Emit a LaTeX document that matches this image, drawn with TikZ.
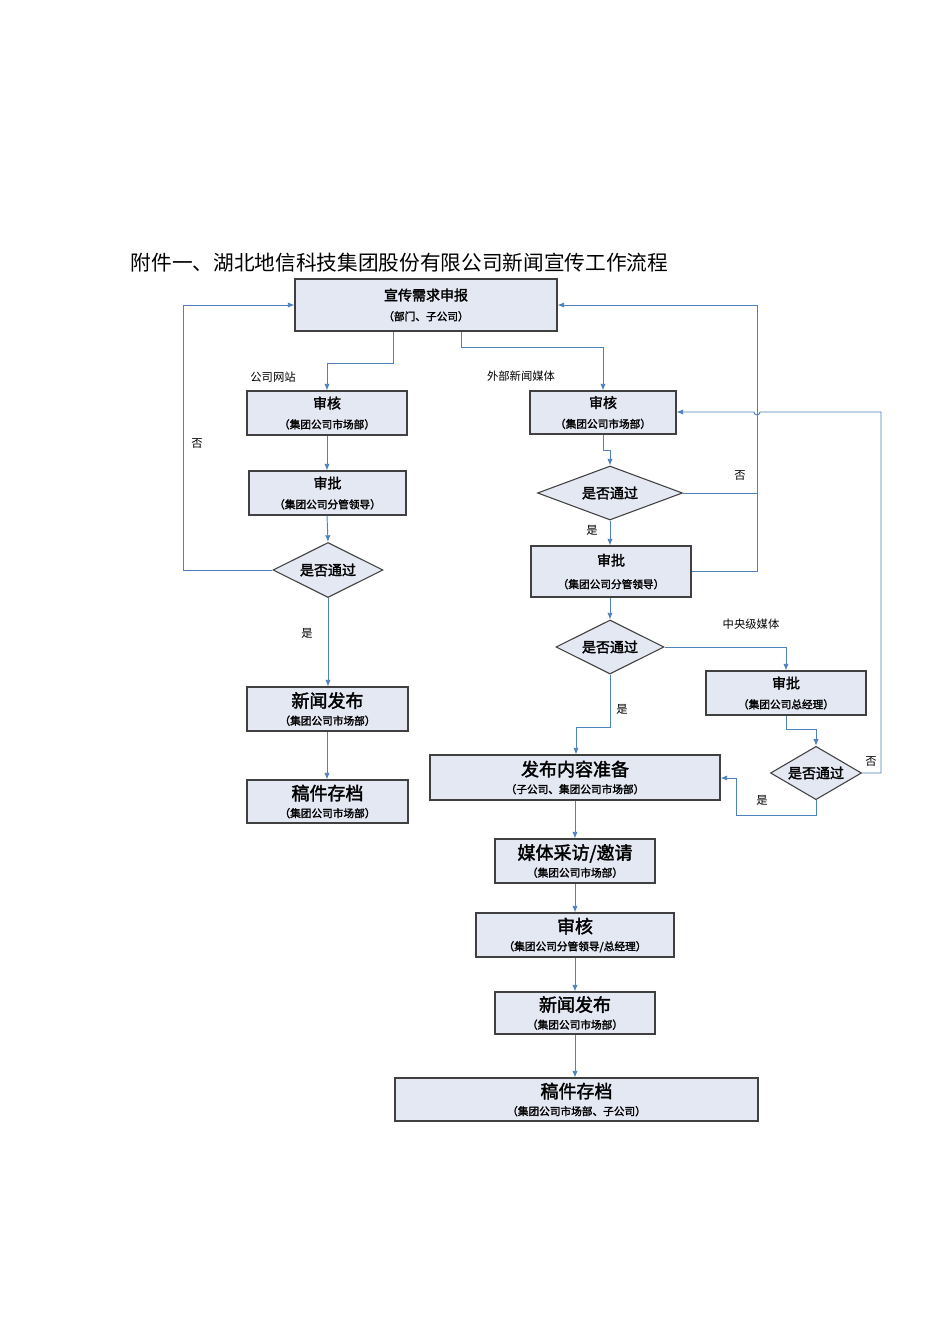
\documentclass[tikz,border=0pt]{standalone}
\usepackage{fontspec}
\setmainfont{Noto Sans CJK SC}
\newfontfamily\cjk{Noto Sans CJK SC}
\newfontfamily\cjkb{Noto Sans CJK SC}[FakeBold=2]
\usetikzlibrary{shapes.geometric,arrows.meta}
\definecolor{ln}{HTML}{4F81BD}
\definecolor{bx}{HTML}{E4E8F3}
\begin{document}
\begin{tikzpicture}[x=0.75pt,y=-0.75pt,
 box/.style={draw=black!75,fill=bx,line width=0.8pt,inner sep=0pt,align=center},
 dia/.style={draw=black!75,fill=bx,line width=0.8pt,diamond,inner sep=0pt,aspect=2},
 c/.style={draw=ln,line width=0.7pt},
 a/.style={c,-{Latex[length=5pt,width=4pt]}},
 lab/.style={font=\cjk\fontsize{8.5}{10}\selectfont},
 t/.style={font=\cjkb\fontsize{10.5}{12}\selectfont},
 s/.style={font=\cjkb\fontsize{8}{10}\selectfont},
 T/.style={font=\cjkb\fontsize{13.5}{15}\selectfont}]
\fill[white] (0,0) rectangle (950,1344);
\node[anchor=west,font=\cjk\fontsize{15.5}{18}\selectfont] (title) at (126,263) {附件一、湖北地信科技集团股份有限公司新闻宣传工作流程};
\newcommand{\bx}[6]{\node[box,minimum width={(#3-#2)*0.75pt},minimum height={(#5-#4)*0.75pt}] (#1) at ({(#2+#3)/2},{(#4+#5)/2}) {#6};}
\bx{top}{295}{557}{279}{331}{{\cjkb\fontsize{10.5}{12}\selectfont 宣传需求申报}\\[3pt]{\cjkb\fontsize{8}{10}\selectfont （部门、子公司）}}
\bx{l1}{247}{407}{391}{435}{{\cjkb\fontsize{10.5}{12}\selectfont 审核}\\[3pt]{\cjkb\fontsize{8}{10}\selectfont （集团公司市场部）}}
\bx{l2}{249}{406}{471}{515}{{\cjkb\fontsize{10.5}{12}\selectfont 审批}\\[3pt]{\cjkb\fontsize{8}{10}\selectfont （集团公司分管领导）}}
\node[dia,minimum width=82.5pt,minimum height=41.25pt,t] (ld) at (328,570) {是否通过};
\bx{l3}{247}{408}{687}{731}{{\cjkb\fontsize{13.5}{15}\selectfont 新闻发布}\\[1pt]{\cjkb\fontsize{8}{10}\selectfont （集团公司市场部）}}
\bx{l4}{247}{408}{780}{823}{{\cjkb\fontsize{13.5}{15}\selectfont 稿件存档}\\[1pt]{\cjkb\fontsize{8}{10}\selectfont （集团公司市场部）}}
\bx{r1}{530}{676}{391}{434}{{\cjkb\fontsize{10.5}{12}\selectfont 审核}\\[3pt]{\cjkb\fontsize{8}{10}\selectfont （集团公司市场部）}}
\node[dia,minimum width=108.75pt,minimum height=40.5pt,t] (d1) at (610,493) {是否通过};
\bx{r2}{531}{691}{546}{597}{{\cjkb\fontsize{10.5}{12}\selectfont 审批}\\[5pt]{\cjkb\fontsize{8}{10}\selectfont （集团公司分管领导）}}
\node[dia,minimum width=81pt,minimum height=40.5pt,t] (d2) at (610,647) {是否通过};
\bx{c1}{706}{866}{671}{715}{{\cjkb\fontsize{10.5}{12}\selectfont 审批}\\[3pt]{\cjkb\fontsize{8}{10}\selectfont （集团公司总经理）}}
\node[dia,minimum width=68.25pt,minimum height=40pt,t] (d3) at (816,773) {是否通过};
\bx{p1}{430}{720}{755}{800}{{\cjkb\fontsize{13.5}{15}\selectfont 发布内容准备}\\[1pt]{\cjkb\fontsize{8}{10}\selectfont （子公司、集团公司市场部）}}
\bx{p2}{495}{655}{839}{883}{{\cjkb\fontsize{13.5}{15}\selectfont 媒体采访/邀请}\\[1pt]{\cjkb\fontsize{8}{10}\selectfont （集团公司市场部）}}
\bx{p3}{476}{674}{913}{957}{{\cjkb\fontsize{13.5}{15}\selectfont 审核}\\[1pt]{\cjkb\fontsize{8}{10}\selectfont （集团公司分管领导/总经理）}}
\bx{p4}{495}{655}{992}{1034}{{\cjkb\fontsize{13.5}{15}\selectfont 新闻发布}\\[1pt]{\cjkb\fontsize{8}{10}\selectfont （集团公司市场部）}}
\bx{p5}{395}{758}{1078}{1121}{{\cjkb\fontsize{13.5}{15}\selectfont 稿件存档}\\[1pt]{\cjkb\fontsize{8}{10}\selectfont （集团公司市场部、子公司）}}
% connectors
\draw[a] (top.south -| 393,0) |- (327,363) -- (l1.north -| 327,0);
\draw[a] (top.south -| 461,0) |- (603,347) -- (r1.north -| 603,0);
\node[lab] (lb1) at (273,377) {公司网站};
\node[lab] (lb2) at (521,376) {外部新闻媒体};
\draw[a] (l1.south -| 327,0) -- (l2.north -| 327,0);
\draw[a] (l2.south -| 327,0) -- (ld.north);
\draw[a] (ld.south) -- (l3.north -| ld.south);
\draw[a] (l3.south -| 327,0) -- (l4.north -| 327,0);
\draw[a] (ld.west) -- (183,570) |- (top.west |- 0,305);
\node[lab] (lb3) at (197,444) {否};
\node[lab] (lb4) at (307,633) {是};
\draw[a] (r1.south -| 603,0) |- (610,450) -- (d1.north);
\draw[c] (d1.east) -- (757,493);
\draw[a] (r2.east |- 0,571) -| (757,305) -- (top.east |- 0,305);
\node[lab] (lb5) at (740,476) {否};
\draw[a] (d1.south) -- (r2.north -| d1.south);
\node[lab] (lb6) at (592,530) {是};
\draw[a] (r2.south -| 610,0) -- (d2.north);
\draw[a] (d2.east) -| (c1.north -| 786,0);
\node[lab] (lb7) at (751,624) {中央级媒体};
\draw[a] (d2.south) |- (576,727) -- (p1.north -| 576,0);
\node[lab] (lb8) at (622,709) {是};
\draw[a] (c1.south -| 786,0) |- (816,729) -- (d3.north);
\draw[a] (d3.east) -- (881,773) |- (760,412) arc[start angle=0,end angle=180,radius=3] -- (r1.east |- 0,412);
\node[lab] (lb9) at (871,762) {否};
\draw[a] (d3.south) |- (736,815) |- (p1.east |- 0,778);
\node[lab] (lb10) at (762,800) {是};
\draw[a] (p1.south -| 575,0) -- (p2.north -| 575,0);
\draw[a] (p2.south -| 575,0) -- (p3.north -| 575,0);
\draw[a] (p3.south -| 575,0) -- (p4.north -| 575,0);
\draw[a] (p4.south -| 575,0) -- (p5.north -| 575,0);
\end{tikzpicture}
\end{document}
